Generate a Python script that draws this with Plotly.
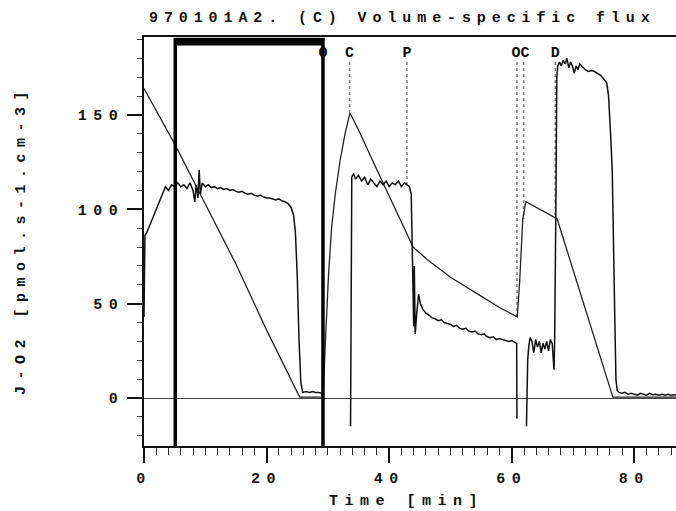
import plotly.graph_objects as go

title_text = "970101A2. (C) Volume-specific flux"
x_title = "Time [min]"
y_title = "J-O2 [pmol.s-1.cm-3]"

x_tick_vals = [0, 20, 40, 60, 80]
x_tick_labels = ["0", "20", "40", "60", "80"]
y_tick_vals = [0, 50, 100, 150]
y_tick_labels = ["0", "50", "100", "150"]

# flux (noisy trace), three recorded segments
flux1_t = [0.0, 0.15, 0.5, 1.0, 1.5, 2.0, 2.5, 3.0, 3.5, 4.0, 4.5, 5.0, 5.5, 6.0, 6.5,
           7.0, 7.5, 8.0, 8.3, 8.5, 8.8, 9.0, 9.2, 9.5, 10.0, 10.5, 11.0, 11.5, 12.0,
           12.5, 13.0, 13.5, 14.0, 14.5, 15.0, 15.5, 16.0, 16.5, 17.0, 17.5, 18.0, 18.5,
           19.0, 19.5, 20.0, 20.5, 21.0, 21.5, 22.0, 22.5, 23.0, 23.5, 24.0, 24.4, 24.7,
           25.0, 25.3, 25.6, 25.9, 26.5, 27.0, 27.5, 28.0, 28.5, 29.0]
flux1_v = [43, 86, 88, 92, 96, 101, 104, 108, 112, 110, 113, 112, 114, 112, 113,
           111, 114, 110, 104, 113, 106, 121, 108, 114, 112, 113, 111.5, 112, 111,
           111.5, 110.5, 111, 110, 110.5, 109.5, 109, 109.5, 108.5, 108, 108.5, 107.5, 107,
           107.5, 106.5, 106, 106, 105.5, 105, 105.5, 104.5, 104, 103, 101, 97, 88,
           65, 30, 8, 3, 3.5, 3, 3.5, 3, 3, 2.5]
flux2_t = [33.7, 33.8, 33.9, 34.2, 34.5, 35.0, 35.5, 36.0, 36.5, 37.0, 37.5, 38.0, 38.5,
           39.0, 39.5, 40.0, 40.5, 41.0, 41.5, 42.0, 42.5, 43.0, 43.3, 43.6, 43.8, 44.0,
           44.1, 44.25, 44.5, 44.8, 45.1, 45.5, 46.0, 46.5, 47.0, 47.5, 48.0, 48.5, 49.0,
           49.5, 50.0, 50.5, 51.0, 51.5, 52.0, 52.5, 53.0, 53.5, 54.0, 54.5, 55.0, 55.5,
           56.0, 56.5, 57.0, 57.5, 58.0, 58.5, 59.0, 59.5, 60.0, 60.5, 60.8, 60.85]
flux2_v = [-15, 100, 117, 119, 116, 118, 115, 117, 113, 116, 114, 112, 115,
           113, 115, 112, 114, 113, 115, 112, 114, 113, 112, 108, 60, 38,
           70, 34, 45, 55, 50, 47, 45, 44, 42.5, 42, 41, 41.5, 40,
           39.5, 39, 38, 38.5, 37, 36.5, 37, 35.5, 35, 35.5, 34, 33.5, 34,
           32.5, 32, 32.5, 31, 31.5, 31, 30.5, 30, 30.5, 29.5, 29, -11]
flux3_t = [62.4, 62.6, 62.8, 63.0, 63.3, 63.6, 63.9, 64.2, 64.5, 64.8, 65.1, 65.4, 65.7,
           66.0, 66.3, 66.6, 66.9, 67.0, 67.2, 67.35, 67.5, 67.8, 68.1, 68.4, 68.7, 69.0,
           69.3, 69.6, 69.9, 70.2, 70.5, 70.8, 71.1, 71.4, 71.7, 72.0, 72.5, 73.0, 73.5,
           74.0, 74.5, 75.0, 75.5, 75.8, 76.0, 76.2, 76.4, 76.6, 76.8, 77.0, 77.2, 77.5,
           78.0, 78.5, 79.0, 79.5, 80.0, 80.5, 81.0, 81.5, 82.0, 82.5, 83.0, 83.5, 84.0,
           84.5, 85.0, 85.5, 86.0, 86.8]
flux3_v = [-15, 20, 28, 32, 30, 24, 31, 27, 30, 24, 29, 26, 30,
           25, 31, 29, 15, 30, 100, 170, 176, 178, 176, 179, 177, 180,
           175, 178, 176, 172, 176, 174, 177, 176, 175, 174, 173, 173.5, 173,
           172, 171, 169, 167, 160, 150, 135, 120, 90, 45, 10, 4, 3,
           2.5, 3, 2, 2.5, 2, 1.5, 2.5, 2, 1.5, 2.5, 1.8, 2, 1.5,
           2, 1.5, 2, 1.5, 1.8]

# oxygen trace (smooth line)
o2_t = [0.0, 5.1, 9.5, 15.0, 20.0, 25.4, 26.0, 29.2, 29.6, 30.1, 30.6, 31.2, 32.0, 32.8,
        33.6, 35.0, 38.0, 41.8, 43.9, 46.0, 50.0, 55.0, 58.0, 60.9, 61.3, 61.8, 62.3,
        67.4, 70.0, 73.0, 76.5, 86.8]
o2_v = [164, 134, 106, 71, 36, 0.5, 0.5, 0.5, 30, 65, 90, 108, 126, 140,
        151, 142, 121, 95, 80, 74, 64, 54, 48, 43, 62, 95, 104,
        95, 68, 37, 0.5, 0.5]

mark_start = 5.1
mark_end = 29.2

# event marks: label, label position, dotted-line times and their lower ends
event_labels = ["O", "C", "P", "OC", "D"]
event_label_times = [29.2, 33.55, 42.9, 61.45, 67.1]
event_line_times = [33.55, 42.9, 60.85, 61.95, 67.1]
event_line_bottom = [151, 113, 43, 95, 95]
event_label_level = 182.5
event_line_top = 178

FONT = "Courier New, Liberation Mono, monospace"
INK = "#111111"
FS = 15


def spaced(s, ls=6.5):
    return f'<span style="letter-spacing:{ls}px">{s}</span>'


fig = go.Figure()

# dotted event lines
for t, b in zip(event_line_times, event_line_bottom):
    fig.add_trace(go.Scatter(x=[t, t], y=[event_line_top, b], mode="lines",
                             line=dict(color="#808080", width=1.5, dash="dot"),
                             hoverinfo="skip", showlegend=False))

# oxygen line
fig.add_trace(go.Scatter(x=o2_t, y=o2_v, mode="lines",
                         line=dict(color="#222222", width=1.3),
                         showlegend=False))

# flux line (segments separated by gaps)
flux_t = flux1_t + [None] + flux2_t + [None] + flux3_t
flux_v = flux1_v + [None] + flux2_v + [None] + flux3_v
fig.add_trace(go.Scatter(x=flux_t, y=flux_v, mode="lines",
                         line=dict(color="#111111", width=1.5),
                         connectgaps=False, showlegend=False))

# marked interval bracket
fig.add_trace(go.Scatter(x=[mark_start, mark_start, mark_end, mark_end],
                         y=[-40, 190, 190, -40], mode="lines",
                         line=dict(color="#000000", width=3.5),
                         hoverinfo="skip", showlegend=False))
fig.add_trace(go.Scatter(x=[mark_start, mark_end], y=[188.6, 188.6], mode="lines",
                         line=dict(color="#000000", width=7),
                         hoverinfo="skip", showlegend=False))

# event labels
fig.add_trace(go.Scatter(x=event_label_times, y=[event_label_level] * len(event_label_times),
                         mode="text", text=[f"<b>{s}</b>" for s in event_labels],
                         textfont=dict(family=FONT, size=FS, color=INK),
                         hoverinfo="skip", showlegend=False, cliponaxis=False))

fig.update_layout(
    width=676, height=511,
    margin=dict(l=144, r=0, t=37, b=65),
    paper_bgcolor="white", plot_bgcolor="white",
    font=dict(family=FONT, size=FS, color=INK, weight="bold"),
    showlegend=False,
    annotations=[
        dict(text=spaced(title_text, 5.9), x=0.0056, y=1.046, xref="paper", yref="paper",
             xanchor="left", yanchor="middle", showarrow=False,
             font=dict(family=FONT, size=FS, color=INK, weight="bold")),
        dict(text=spaced(x_title), x=0.4925, y=-0.1345, xref="paper", yref="paper",
             xanchor="center", yanchor="middle", showarrow=False,
             font=dict(family=FONT, size=FS, color=INK, weight="bold")),
        dict(text=spaced(y_title), x=-0.2293, y=0.5037, xref="paper", yref="paper",
             xanchor="center", yanchor="middle", showarrow=False, textangle=-90,
             font=dict(family=FONT, size=FS, color=INK, weight="bold")),
    ],
)

fig.update_xaxes(
    range=[0, 86.8], showgrid=False, zeroline=False,
    showline=True, linecolor="#111111", linewidth=1.5, mirror=True,
    tickmode="array", tickvals=x_tick_vals,
    ticktext=[spaced(s) for s in x_tick_labels],
    ticks="outside", ticklen=15, tickwidth=1.5, tickcolor="#111111",
    ticklabelstandoff=2,
    minor=dict(dtick=2, ticks="outside", ticklen=7, tickwidth=1.2, tickcolor="#333333"),
    tickfont=dict(family=FONT, size=FS, color=INK, weight="bold"),
)
fig.update_yaxes(
    range=[-25.4, 191.3], showgrid=False,
    zeroline=True, zerolinecolor="#444444", zerolinewidth=1.3,
    showline=True, linecolor="#111111", linewidth=1.5, mirror=False,
    tickmode="array", tickvals=y_tick_vals,
    ticktext=[spaced(s) for s in y_tick_labels],
    ticks="outside", ticklen=15, tickwidth=1.5, tickcolor="#111111",
    minor=dict(dtick=10, ticks="outside", ticklen=5, tickwidth=1.2, tickcolor="#333333"),
    tickfont=dict(family=FONT, size=FS, color=INK, weight="bold"),
)

fig.write_html("out.html")
